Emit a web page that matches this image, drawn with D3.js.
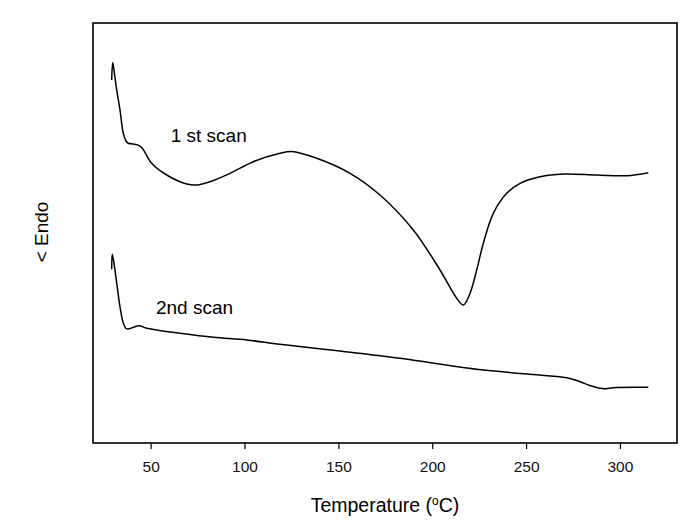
<!DOCTYPE html>
<html>
<head>
<meta charset="utf-8">
<script src="https://cdn.jsdelivr.net/npm/d3@7"></script>
<style>
  html, body { margin: 0; padding: 0; background: #fff; }
  svg { display: block; font-family: "Liberation Sans", Arial, sans-serif; }
</style>
</head>
<body>
<svg id="chart" width="699" height="523"></svg>
<script>
// ---- data (temperature in °C, heat flow in arbitrary units) ----
const scan1Temp = [29.25, 29.78, 30.3, 31.54, 33.67, 35.43, 36.87, 38.09, 40.6, 42.57, 45.23, 50.56, 58.55, 69.21, 74.53, 81.62, 92.28, 104.69, 118.91, 125.0, 138.47, 156.21, 172.19, 189.93, 204.16, 213.05, 216.57, 220.14, 223.71, 227.23, 232.55, 239.69, 246.78, 257.43, 269.85, 287.64, 303.62, 315.13];
const scan1Flow = [86.43, 90.55, 89.3, 85.24, 79.29, 73.74, 71.90, 71.36, 71.19, 71.05, 70.35, 66.60, 63.81, 61.67, 61.43, 62.21, 64.21, 66.98, 68.98, 69.40, 67.79, 64.21, 59.05, 50.71, 41.19, 34.45, 32.86, 35.64, 41.19, 47.55, 54.69, 59.45, 61.83, 63.40, 64.05, 63.81, 63.64, 64.36];

const scan2Temp = [29.25, 29.57, 30.2, 32.07, 33.67, 35.27, 36.87, 38.09, 40.6, 43.79, 47.52, 53.22, 65.64, 83.38, 101.17, 118.91, 150.88, 182.85, 223.71, 250.35, 271.66, 278.74, 284.07, 289.4, 292.6, 296.33, 315.13];
const scan2Flow = [41.36, 44.95, 43.6, 37.62, 32.45, 28.81, 27.26, 27.14, 27.50, 27.93, 27.38, 26.90, 26.12, 25.17, 24.52, 23.50, 21.90, 20.17, 17.55, 16.43, 15.55, 14.60, 13.69, 13.02, 12.93, 13.17, 13.26];

const xTicks = [50, 100, 150, 200, 250, 300];
const labels = [
  { text: "1 st scan", t: 60.7, v: 71.7 },
  { text: "2nd scan", t: 52.85, v: 30.7 }
];
const xTitle = "Temperature (";
const yTitle = "< Endo";

// ---- layout ----
const svg = d3.select("#chart");
const L = 93, R = 677, T = 23, B = 443;

const x = d3.scaleLinear().domain([19.3, 330.4]).range([L, R]);
const y = d3.scaleLinear().domain([0, 100]).range([B, T]);

const line = d3.line()
  .x(d => x(d[0]))
  .y(d => y(d[1]))
  .curve(d3.curveCatmullRom.alpha(0.5));

const s1 = scan1Temp.map((t, i) => [t, scan1Flow[i]]);
const s2 = scan2Temp.map((t, i) => [t, scan2Flow[i]]);

svg.append("path").datum(s1).attr("d", line)
  .attr("fill", "none").attr("stroke", "#000").attr("stroke-width", 1.5);
svg.append("path").datum(s2).attr("d", line)
  .attr("fill", "none").attr("stroke", "#000").attr("stroke-width", 1.5);

// frame
svg.append("rect")
  .attr("x", L).attr("y", T).attr("width", R - L).attr("height", B - T)
  .attr("fill", "none").attr("stroke", "#000").attr("stroke-width", 1.6);

// x axis
const ax = svg.append("g").attr("transform", `translate(0,${B})`)
  .call(d3.axisBottom(x).tickValues(xTicks).tickSize(6).tickSizeOuter(0).tickPadding(12));
ax.select(".domain").remove();
ax.selectAll("line").attr("stroke", "#000").attr("stroke-width", 1.2);
ax.selectAll("text").attr("font-size", 15.5).attr("fill", "#111")
  .attr("font-family", "Liberation Sans, Arial, sans-serif");

// annotations
svg.selectAll("text.lab").data(labels).enter().append("text")
  .attr("class", "lab")
  .attr("x", d => x(d.t)).attr("y", d => y(d.v))
  .attr("font-size", 19).attr("fill", "#000")
  .text(d => d.text);

// x title
const xt = svg.append("text")
  .attr("x", (L + R) / 2).attr("y", 512)
  .attr("text-anchor", "middle").attr("font-size", 19.5).attr("fill", "#000");
xt.append("tspan").text(xTitle);
xt.append("tspan").attr("font-size", 12).attr("dy", -7).text("o");
xt.append("tspan").attr("dy", 7).text("C)");

// y title
svg.append("text")
  .attr("transform", "translate(48,232) rotate(-90)")
  .attr("text-anchor", "middle").attr("font-size", 19).attr("fill", "#000")
  .text(yTitle);
</script>
</body>
</html>
